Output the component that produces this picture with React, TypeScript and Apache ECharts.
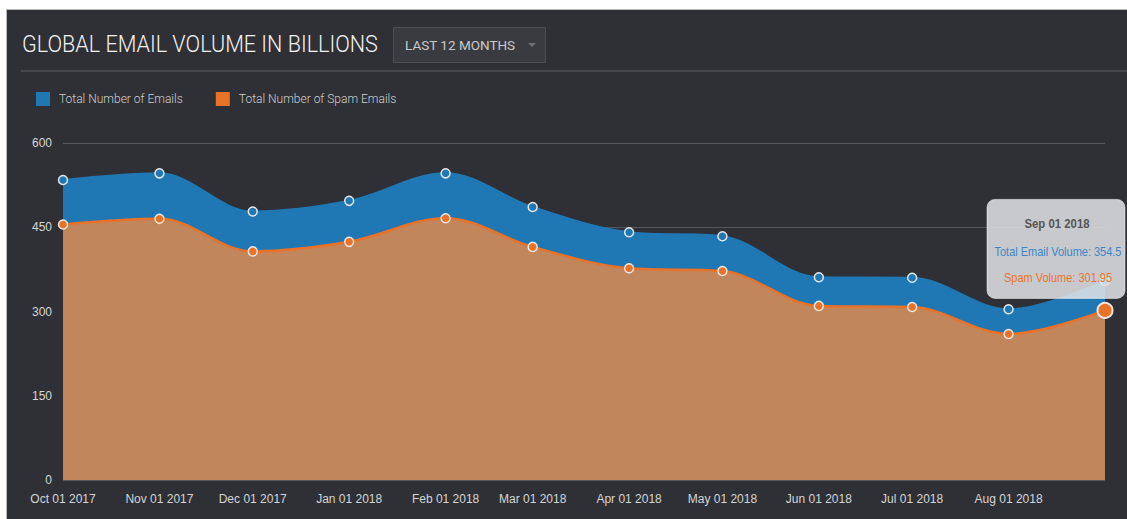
import React, { useEffect, useRef } from "react";
import * as echarts from "echarts";

const dates = [
  "2017-10-01", "2017-11-01", "2017-12-01", "2018-01-01", "2018-02-01", "2018-03-01",
  "2018-04-01", "2018-05-01", "2018-06-01", "2018-07-01", "2018-08-01", "2018-09-01",
];
const xLabels = [
  "Oct 01 2017", "Nov 01 2017", "Dec 01 2017", "Jan 01 2018", "Feb 01 2018", "Mar 01 2018",
  "Apr 01 2018", "May 01 2018", "Jun 01 2018", "Jul 01 2018", "Aug 01 2018",
];
const totalEmails = [534, 546, 478, 497, 546, 486, 441, 434, 361, 360, 304, 354.5];
const spamEmails = [455, 465, 407, 424, 466, 415, 377, 372, 310, 308, 260, 301.95];
const yMin = 0;
const yMax = 600;
const yInterval = 150;
const seriesNames = ["Total Number of Emails", "Total Number of Spam Emails"];
const chartTitle = "GLOBAL EMAIL VOLUME IN BILLIONS";
const rangeLabel = "LAST 12 MONTHS";
const tooltipTitle = "Sep 01 2018";
const tooltipLabels = ["Total Email Volume", "Spam Volume"];

// days since the first date (UTC-based, timezone independent)
const toDay = (s: string) => {
  const [y, m, d] = s.split("-").map(Number);
  return Date.UTC(y, m - 1, d) / 86400000;
};

const BG = "#2e3035";
const BLUE = "#1f78b4";
const ORANGE = "#ea7227";
const TAN = "#c1865c";

let measureCtx: CanvasRenderingContext2D | null = null;
const fitScale = (text: string, font: string, target: number) => {
  if (!measureCtx) measureCtx = document.createElement("canvas").getContext("2d");
  if (!measureCtx) return 1;
  measureCtx.font = font;
  const w = measureCtx.measureText(text).width;
  return w > 0 ? Math.min(1, target / w) : 1;
};

export default function App() {
  const ref = useRef<HTMLDivElement>(null);
  useEffect(() => {
    if (!ref.current) return;
    const chart = echarts.init(ref.current, null, { renderer: "svg" });
    const day0 = toDay(dates[0]);
    const xs = dates.map((s) => toDay(s) - day0);
    const lastIdx = xs.length - 1;
    const labelXs = xs.slice(0, xLabels.length);

    const titleFont = "300 24px Roboto";
    const headerGraphics: any[] = [
      {
        type: "text",
        x: 15,
        y: 34,
        scaleX: fitScale(chartTitle, titleFont, 356),
        style: {
          text: chartTitle,
          fill: "#f2f2f2",
          font: titleFont,
          verticalAlign: "middle",
        },
      },
      {
        type: "rect",
        shape: { x: 386.5, y: 17.5, width: 152, height: 35 },
        style: { fill: "#393b40", stroke: "#4c4e53", lineWidth: 1 },
      },
      {
        type: "text",
        x: 398,
        y: 35,
        style: {
          text: rangeLabel,
          fill: "#c9c9c9",
          font: "400 13.5px Roboto",
          verticalAlign: "middle",
        },
      },
      {
        type: "polygon",
        shape: { points: [[521, 33], [529, 33], [525, 37]] },
        style: { fill: "#6d6f74" },
      },
      {
        type: "line",
        shape: { x1: 14, y1: 61, x2: 1120, y2: 61 },
        style: { stroke: "#46484d", lineWidth: 2 },
      },
    ];

    const option: any = {
      animation: false,
      backgroundColor: BG,
      grid: { left: 56, right: 22, top: 133, bottom: 39, containLabel: false },
      legend: {
        data: seriesNames,
        left: 24,
        top: 77,
        icon: "rect",
        itemWidth: 14,
        itemHeight: 14,
        itemGap: 33,
        itemStyle: { borderWidth: 0 },
        textStyle: {
          color: "#cfcfcf",
          fontSize: 12,
          fontFamily: "Roboto",
          fontWeight: 300,
          padding: [0, 0, 0, 4],
        },
      },
      xAxis: {
        type: "value",
        min: xs[0],
        max: xs[lastIdx],
        axisLine: { show: false },
        axisTick: { show: false, customValues: labelXs },
        splitLine: { show: false },
        axisLabel: {
          customValues: labelXs,
          hideOverlap: false,
          showMinLabel: true,
          showMaxLabel: true,
          color: "#d5d5d5",
          fontSize: 12,
          fontFamily: "Liberation Sans",
          margin: 13,
          formatter: (v: number) => {
            const i = labelXs.indexOf(v);
            return i >= 0 ? xLabels[i] : "";
          },
        },
      },
      yAxis: {
        type: "value",
        min: yMin,
        max: yMax,
        interval: yInterval,
        axisLine: { show: false },
        axisTick: { show: false },
        splitLine: { lineStyle: { color: "#55575c", width: 1 } },
        axisLabel: {
          color: "#d5d5d5",
          fontSize: 12,
          fontFamily: "Liberation Sans",
          margin: 11,
        },
      },
      series: [
        {
          name: seriesNames[0],
          type: "line",
          smooth: 0.35,
          showAllSymbol: true,
          symbol: "circle",
          symbolSize: 9,
          data: xs.map((t, i) => [t, totalEmails[i]]),
          lineStyle: { color: BLUE, width: 2 },
          itemStyle: { color: BLUE, borderColor: "#e6e6e6", borderWidth: 1.5 },
          areaStyle: { color: BLUE, opacity: 1 },
          z: 2,
        },
        {
          name: seriesNames[1],
          type: "line",
          smooth: 0.35,
          showAllSymbol: true,
          symbol: "circle",
          symbolSize: 9,
          data: xs.map((t, i) =>
            i === lastIdx
              ? { value: [t, spamEmails[i]], symbolSize: 15, itemStyle: { borderWidth: 2 } }
              : [t, spamEmails[i]]
          ),
          lineStyle: { color: ORANGE, width: 2.5 },
          itemStyle: { color: ORANGE, borderColor: "#f0e6e0", borderWidth: 1.5 },
          areaStyle: { color: TAN, opacity: 1 },
          z: 3,
        },
      ],
      graphic: headerGraphics,
    };
    chart.setOption(option);

    const p = chart.convertToPixel({ xAxisIndex: 0, yAxisIndex: 0 }, [
      xs[lastIdx],
      spamEmails[lastIdx],
    ]) as number[];
    const bx = p[0] - 118;
    const by = p[1] - 111;
    const bw = 138;
    const bh = 99;
    const cx = bx + bw / 2 + 1;
    const lineFont = "12px Liberation Sans";
    const line1 = `${tooltipLabels[0]}: ${totalEmails[lastIdx]}`;
    const line2 = `${tooltipLabels[1]}: ${spamEmails[lastIdx]}`;
    const lineScale = fitScale(line1, lineFont, 127);
    const tooltipGroup = {
      type: "group",
      z: 100,
      children: [
        {
          type: "rect",
          z: 100,
          shape: { x: bx, y: by, width: bw, height: bh, r: 8 },
          style: { fill: "rgba(226,227,229,0.86)", stroke: "rgba(255,255,255,0.5)", lineWidth: 1 },
        },
        {
          type: "text",
          z: 101,
          x: cx,
          y: by + 24,
          scaleX: 0.95,
          style: {
            text: tooltipTitle,
            fill: "#555555",
            font: "bold 12px Liberation Sans",
            align: "center",
            verticalAlign: "middle",
          },
        },
        {
          type: "text",
          z: 101,
          x: cx + 1,
          y: by + 52,
          scaleX: lineScale,
          style: {
            text: line1,
            fill: "#3a86c8",
            font: lineFont,
            align: "center",
            verticalAlign: "middle",
          },
        },
        {
          type: "text",
          z: 101,
          x: cx + 1,
          y: by + 78,
          scaleX: lineScale,
          style: {
            text: line2,
            fill: "#ea7429",
            font: lineFont,
            align: "center",
            verticalAlign: "middle",
          },
        },
      ],
    };
    chart.setOption({ graphic: [...headerGraphics, tooltipGroup] });

    return () => chart.dispose();
  }, []);

  return (
    <div
      style={{
        position: "absolute",
        left: 6,
        top: 9,
        borderLeft: "1px solid #b8b8b8",
        borderTop: "1px solid #b8b8b8",
        background: BG,
      }}
    >
      <div ref={ref} style={{ width: 1120, height: 509 }} />
    </div>
  );
}
